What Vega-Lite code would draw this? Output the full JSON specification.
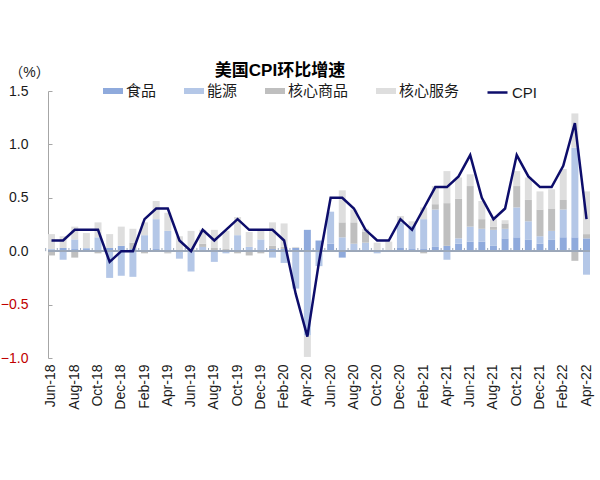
{
  "$schema": "https://vega.github.io/schema/vega-lite/v6.json",
  "width": 542,
  "height": 267,
  "autosize": {"type": "none"},
  "padding": {"left": 48, "top": 91, "right": 10, "bottom": 122},
  "background": "white",
  "config": {
    "view": {"stroke": null},
    "font": "Liberation Sans, Noto Sans CJK SC",
    "axisX": {"title": null, "domain": false, "ticks": false, "labelAngle": -90, "labelFontSize": 14, "labelPadding": 6, "labelColor": "#1a1a1a"}
  },
  "title": {"text": "美国CPI环比增速", "fontSize": 17, "fontWeight": "bold", "anchor": "middle", "dx": -39, "dy": 19, "color": "#000000"},
  "datasets": {
    "cats": [
      {"c": "食品", "k": 1},
      {"c": "能源", "k": 2},
      {"c": "核心商品", "k": 3},
      {"c": "核心服务", "k": 4}
    ]
  },
  "data": {"values": [
    {"m": "Jun-18", "食品": 0.01, "能源": 0.01, "核心商品": -0.04, "核心服务": 0.14, "CPI": 0.1},
    {"m": "Jul-18", "食品": 0.03, "能源": -0.08, "核心商品": 0.0, "核心服务": 0.11, "CPI": 0.1},
    {"m": "Aug-18", "食品": 0.02, "能源": 0.09, "核心商品": -0.06, "核心服务": 0.12, "CPI": 0.2},
    {"m": "Sep-18", "食品": 0.02, "能源": 0.01, "核心商品": 0.0, "核心服务": 0.14, "CPI": 0.2},
    {"m": "Oct-18", "食品": 0.01, "能源": 0.12, "核心商品": -0.02, "核心服务": 0.14, "CPI": 0.2},
    {"m": "Nov-18", "食品": 0.03, "能源": -0.25, "核心商品": 0.0, "核心服务": 0.13, "CPI": -0.1},
    {"m": "Dec-18", "食品": 0.05, "能源": -0.23, "核心商品": 0.0, "核心服务": 0.18, "CPI": 0.0},
    {"m": "Jan-19", "食品": 0.02, "能源": -0.24, "核心商品": 0.06, "核心服务": 0.13, "CPI": 0.0},
    {"m": "Feb-19", "食品": 0.01, "能源": 0.14, "核心商品": -0.02, "核心服务": 0.12, "CPI": 0.3},
    {"m": "Mar-19", "食品": 0.02, "能源": 0.28, "核心商品": 0.0, "核心服务": 0.17, "CPI": 0.4},
    {"m": "Apr-19", "食品": -0.01, "能源": 0.19, "核心商品": -0.01, "核心服务": 0.17, "CPI": 0.4},
    {"m": "May-19", "食品": 0.01, "能源": -0.07, "核心商品": 0.0, "核心服务": 0.13, "CPI": 0.1},
    {"m": "Jun-19", "食品": 0.01, "能源": -0.19, "核心商品": 0.0, "核心服务": 0.18, "CPI": 0.0},
    {"m": "Jul-19", "食品": 0.01, "能源": 0.03, "核心商品": 0.03, "核心服务": 0.13, "CPI": 0.2},
    {"m": "Aug-19", "食品": 0.0, "能源": -0.1, "核心商品": 0.03, "核心服务": 0.17, "CPI": 0.1},
    {"m": "Sep-19", "食品": 0.01, "能源": -0.02, "核心商品": 0.01, "核心服务": 0.17, "CPI": 0.2},
    {"m": "Oct-19", "食品": 0.0, "能源": 0.15, "核心商品": -0.02, "核心服务": 0.17, "CPI": 0.3},
    {"m": "Nov-19", "食品": 0.01, "能源": 0.03, "核心商品": -0.04, "核心服务": 0.14, "CPI": 0.2},
    {"m": "Dec-19", "食品": 0.01, "能源": 0.1, "核心商品": -0.02, "核心服务": 0.08, "CPI": 0.2},
    {"m": "Jan-20", "食品": 0.02, "能源": -0.06, "核心商品": 0.03, "核心服务": 0.22, "CPI": 0.2},
    {"m": "Feb-20", "食品": 0.02, "能源": -0.11, "核心商品": 0.02, "核心服务": 0.22, "CPI": 0.1},
    {"m": "Mar-20", "食品": 0.03, "能源": -0.35, "核心商品": 0.0, "核心服务": 0.01, "CPI": -0.4},
    {"m": "Apr-20", "食品": 0.2, "能源": -0.79, "核心商品": 0.0, "核心服务": -0.2, "CPI": -0.8},
    {"m": "May-20", "食品": 0.1, "能源": -0.14, "核心商品": 0.0, "核心服务": 0.0, "CPI": -0.1},
    {"m": "Jun-20", "食品": 0.07, "能源": 0.3, "核心商品": 0.0, "核心服务": 0.0, "CPI": 0.5},
    {"m": "Jul-20", "食品": -0.06, "能源": 0.13, "核心商品": 0.14, "核心服务": 0.3, "CPI": 0.5},
    {"m": "Aug-20", "食品": 0.01, "能源": 0.06, "核心商品": 0.2, "核心服务": 0.12, "CPI": 0.4},
    {"m": "Sep-20", "食品": 0.01, "能源": 0.07, "核心商品": 0.1, "核心服务": 0.03, "CPI": 0.2},
    {"m": "Oct-20", "食品": 0.01, "能源": -0.02, "核心商品": 0.0, "核心服务": 0.07, "CPI": 0.1},
    {"m": "Nov-20", "食品": 0.0, "能源": 0.01, "核心商品": 0.0, "核心服务": 0.08, "CPI": 0.1},
    {"m": "Dec-20", "食品": 0.03, "能源": 0.24, "核心商品": 0.0, "核心服务": 0.06, "CPI": 0.3},
    {"m": "Jan-21", "食品": 0.02, "能源": 0.22, "核心商品": 0.0, "核心服务": 0.04, "CPI": 0.2},
    {"m": "Feb-21", "食品": 0.02, "能源": 0.28, "核心商品": -0.02, "核心服务": 0.11, "CPI": 0.4},
    {"m": "Mar-21", "食品": 0.04, "能源": 0.35, "核心商品": 0.05, "核心服务": 0.17, "CPI": 0.6},
    {"m": "Apr-21", "食品": 0.05, "能源": -0.08, "核心商品": 0.4, "核心服务": 0.3, "CPI": 0.6},
    {"m": "May-21", "食品": 0.07, "能源": 0.05, "核心商品": 0.37, "核心服务": 0.2, "CPI": 0.7},
    {"m": "Jun-21", "食品": 0.09, "能源": 0.14, "核心商品": 0.38, "核心服务": 0.11, "CPI": 0.9},
    {"m": "Jul-21", "食品": 0.09, "能源": 0.12, "核心商品": 0.09, "核心服务": 0.17, "CPI": 0.5},
    {"m": "Aug-21", "食品": 0.05, "能源": 0.15, "核心商品": 0.03, "核心服务": 0.07, "CPI": 0.3},
    {"m": "Sep-21", "食品": 0.12, "能源": 0.09, "核心商品": 0.05, "核心服务": 0.03, "CPI": 0.4},
    {"m": "Oct-21", "食品": 0.13, "能源": 0.28, "核心商品": 0.2, "核心服务": 0.14, "CPI": 0.9},
    {"m": "Nov-21", "食品": 0.11, "能源": 0.17, "核心商品": 0.2, "核心服务": 0.21, "CPI": 0.7},
    {"m": "Dec-21", "食品": 0.07, "能源": 0.07, "核心商品": 0.25, "核心服务": 0.17, "CPI": 0.6},
    {"m": "Jan-22", "食品": 0.11, "能源": 0.08, "核心商品": 0.21, "核心服务": 0.18, "CPI": 0.6},
    {"m": "Feb-22", "食品": 0.13, "能源": 0.26, "核心商品": 0.09, "核心服务": 0.29, "CPI": 0.8},
    {"m": "Mar-22", "食品": 0.13, "能源": 0.84, "核心商品": -0.09, "核心服务": 0.32, "CPI": 1.2},
    {"m": "Apr-22", "食品": 0.12, "能源": -0.22, "核心商品": 0.04, "核心服务": 0.4, "CPI": 0.3}
  ]},
  "layer": [
    {
      "transform": [
        {"fold": ["食品", "能源", "核心商品", "核心服务"], "as": ["cat", "v"]},
        {"lookup": "cat", "from": {"data": {"name": "cats"}, "key": "c", "fields": ["k"]}}
      ],
      "mark": {"type": "bar"},
      "encoding": {
        "x": {
          "field": "m", "type": "ordinal", "sort": null,
          "scale": {"paddingInner": 0.4, "paddingOuter": 0},
          "axis": {"values": ["Jun-18", "Aug-18", "Oct-18", "Dec-18", "Feb-19", "Apr-19", "Jun-19", "Aug-19", "Oct-19", "Dec-19", "Feb-20", "Apr-20", "Jun-20", "Aug-20", "Oct-20", "Dec-20", "Feb-21", "Apr-21", "Jun-21", "Aug-21", "Oct-21", "Dec-21", "Feb-22", "Apr-22"]}
        },
        "y": {
          "field": "v", "type": "quantitative",
          "scale": {"domain": [-1, 1.5], "nice": false},
          "axis": {
            "title": "（%）", "titleAngle": 0, "titleX": -19, "titleY": -19,
            "titleAlign": "center", "titleBaseline": "middle", "titleFontSize": 14,
            "titleFontWeight": "normal", "titleColor": "#1a1a1a",
            "values": [-1, -0.5, 0, 0.5, 1, 1.5], "format": ".1f",
            "grid": false, "labelFontSize": 14, "labelPadding": 24,
            "labelColor": {"condition": {"test": "datum.value < 0", "value": "#c00000"}, "value": "#1a1a1a"},
            "domainColor": "#a6a6a6", "tickColor": "#a6a6a6", "tickSize": -4
          }
        },
        "fill": {
          "field": "cat", "type": "nominal",
          "scale": {"domain": ["食品", "能源", "核心商品", "核心服务"], "range": ["#8faadc", "#b4c7e7", "#bfbfbf", "#dedede"]},
          "legend": {
            "title": null, "orient": "none", "legendX": 55, "legendY": -10, "direction": "horizontal",
            "symbolType": "M-1,-0.3L1,-0.3L1,0.3L-1,0.3Z", "symbolSize": 400, "symbolStrokeWidth": 0,
            "labelFontSize": 15, "labelOffset": 3, "columnPadding": 27, "labelColor": "#1a1a1a"
          }
        },
        "order": {"field": "k"}
      }
    },
    {
      "mark": {"type": "rule", "color": "#9ba7b9", "strokeWidth": 1.5},
      "encoding": {"y": {"datum": 0}}
    },
    {
      "mark": {"type": "rule", "color": "#9ba7b9", "strokeWidth": 1},
      "encoding": {
        "x": {"field": "m", "type": "ordinal", "sort": null, "bandPosition": -0.333,
          "axis": {"values": ["Jun-18", "Aug-18", "Oct-18", "Dec-18", "Feb-19", "Apr-19", "Jun-19", "Aug-19", "Oct-19", "Dec-19", "Feb-20", "Apr-20", "Jun-20", "Aug-20", "Oct-20", "Dec-20", "Feb-21", "Apr-21", "Jun-21", "Aug-21", "Oct-21", "Dec-21", "Feb-22", "Apr-22"]}},
        "y": {"datum": 0},
        "y2": {"datum": 0.03}
      }
    },
    {
      "mark": {"type": "line", "strokeWidth": 2.5},
      "encoding": {
        "x": {"field": "m", "type": "ordinal", "sort": null,
          "axis": {"values": ["Jun-18", "Aug-18", "Oct-18", "Dec-18", "Feb-19", "Apr-19", "Jun-19", "Aug-19", "Oct-19", "Dec-19", "Feb-20", "Apr-20", "Jun-20", "Aug-20", "Oct-20", "Dec-20", "Feb-21", "Apr-21", "Jun-21", "Aug-21", "Oct-21", "Dec-21", "Feb-22", "Apr-22"]}},
        "y": {"field": "CPI", "type": "quantitative", "scale": {"domain": [-1, 1.5], "nice": false}, "title": "（%）"},
        "stroke": {
          "datum": "CPI",
          "scale": {"range": ["#0d0d6b"]},
          "legend": {
            "title": null, "orient": "none", "legendX": 438, "legendY": -10,
            "symbolType": "stroke", "symbolSize": 400, "symbolStrokeWidth": 2.5,
            "labelFontSize": 15, "labelOffset": 3, "labelColor": "#1a1a1a"
          }
        }
      }
    }
  ]
}
